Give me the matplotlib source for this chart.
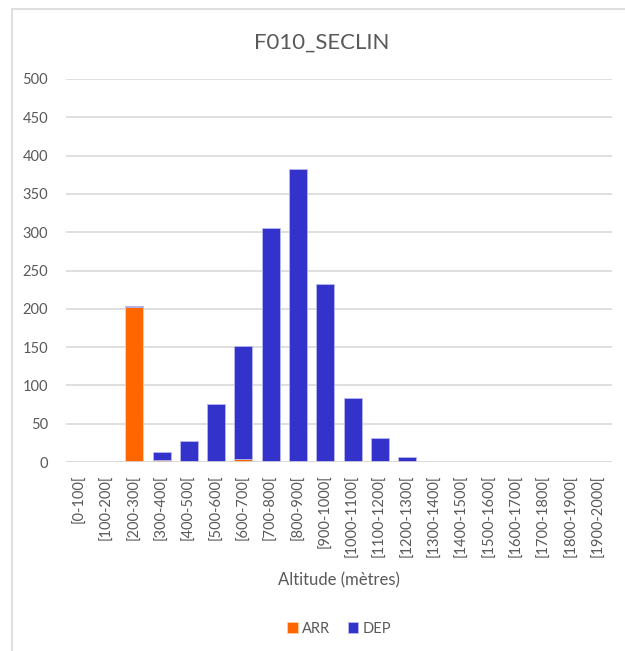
import matplotlib.pyplot as plt
from matplotlib.patches import Rectangle
import numpy as np

plt.rcParams['font.family'] = ['Lato', 'DejaVu Sans']

categories = ['[0-100[', '[100-200[', '[200-300[', '[300-400[', '[400-500[',
              '[500-600[', '[600-700[', '[700-800[', '[800-900[', '[900-1000[',
              '[1000-1100[', '[1100-1200[', '[1200-1300[', '[1300-1400[',
              '[1400-1500[', '[1500-1600[', '[1600-1700[', '[1700-1800[',
              '[1800-1900[', '[1900-2000[']
arr = [0, 0, 203, 2, 0, 0, 4, 0, 0, 0, 0, 0, 0, 0, 0, 0, 0, 0, 0, 0]
dep = [0, 0, 1, 11, 28, 76, 147, 306, 382, 232, 83, 31, 6, 0, 0, 0, 0, 0, 0, 0]
yticks = [0, 50, 100, 150, 200, 250, 300, 350, 400, 450, 500]

txt = '#595959'
fig = plt.figure(figsize=(6.25, 6.51), dpi=100)
ax = fig.add_axes([66 / 625, 1 - 462 / 651, 546 / 625, 383 / 651])

x = np.arange(len(categories))
ax.bar(x, arr, width=0.66, color='#ff6600', edgecolor='#ffd0b0', linewidth=0.6,
       label='ARR', zorder=3)
ax.bar(x, dep, width=0.66, bottom=arr, color='#3333cc', edgecolor='#b8b8ee',
       linewidth=0.6, label='DEP', zorder=3)

ax.set_xlim(-0.5, len(categories) - 0.5)
ax.set_ylim(0, 500)
ax.set_yticks(yticks)
ax.yaxis.grid(True, color='#d9d9d9', linewidth=1.2, zorder=0)
for s in ax.spines.values():
    s.set_visible(False)
ax.axhline(0, color='#d9d9d9', linewidth=1.2, zorder=4)
ax.tick_params(length=0, colors=txt, labelsize=10.5)
ax.tick_params(axis='y', pad=13)
ax.set_xticks(x)
ax.set_xticklabels(categories, rotation=90, fontsize=10.5, color=txt)
ax.tick_params(axis='x', pad=9)

ax.set_xlabel('Altitude (mètres)', fontsize=12, color=txt, labelpad=11)
fig.text(0.515, 1 - 43 / 651, 'F010_SECLIN', ha='center', va='center',
         fontsize=16, color=txt)

ax.legend(loc='center', bbox_to_anchor=(0.5, -0.435), ncol=2, frameon=False,
          fontsize=10.5, labelcolor=txt, handlelength=0.7, handleheight=0.7,
          handletextpad=0.3, columnspacing=1.2)

fig.patches.append(Rectangle((11.5 / 625, -0.05), 1.1, 1 - 9.5 / 651 + 0.05,
                             transform=fig.transFigure, fill=False,
                             edgecolor='#d9d9d9', linewidth=1.2))

fig.savefig('out.png', dpi=100, facecolor='white')
